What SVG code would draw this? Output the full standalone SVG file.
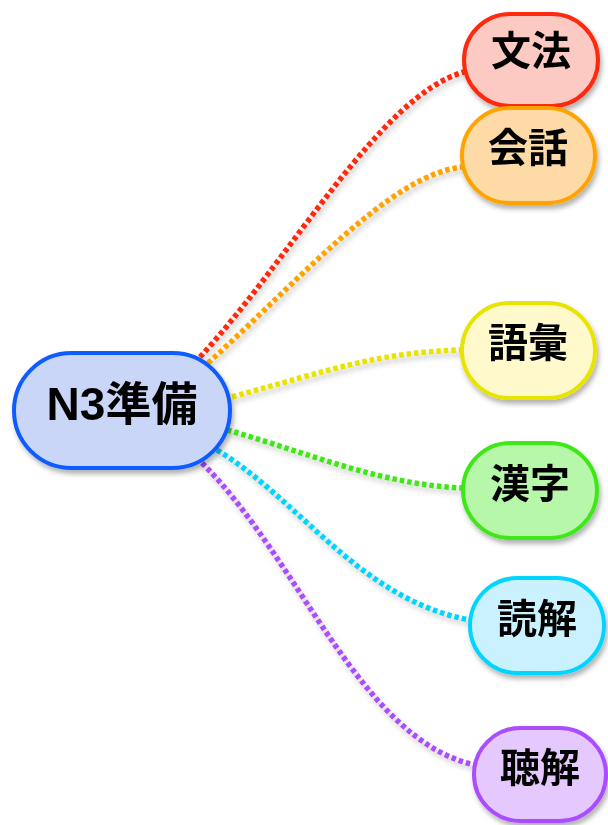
<svg xmlns="http://www.w3.org/2000/svg" width="608" height="825" viewBox="0 0 608 825">
<defs>
<filter id="sh" x="-20%" y="-20%" width="140%" height="150%">
<feDropShadow dx="2" dy="4" stdDeviation="2.5" flood-color="#000" flood-opacity="0.3"/>
</filter>
<filter id="lsh" x="-10%" y="-10%" width="120%" height="120%">
<feDropShadow dx="2" dy="4" stdDeviation="2.5" flood-color="#000" flood-opacity="0.22"/>
</filter>
</defs>
<style>
.c{fill:none;stroke-width:5.5;stroke-dasharray:4.5 3}
.n{stroke-width:4}
.t{font-family:"Noto Sans CJK JP","Liberation Sans",sans-serif;font-weight:bold;font-size:40px;fill:#000;text-anchor:middle}
.m{font-family:"Liberation Sans","Noto Sans CJK JP",sans-serif;font-weight:bold;font-size:46px;fill:#000;text-anchor:middle}
</style>
<rect width="608" height="825" fill="#fff"/>
<g id="connectors" filter="url(#lsh)">
<path class="c" stroke="#ff2a10" d="M200,357 C290,260 380,95 464,72"/>
<path class="c" stroke="#ffa300" d="M208,363 C300,280 390,175 462,167"/>
<path class="c" stroke="#e8e400" d="M232,397 C330,370 380,352 462,350"/>
<path class="c" stroke="#3ee819" d="M227,430 C300,450 380,485 463,488"/>
<path class="c" stroke="#00d5ff" d="M217,450 C300,500 360,600 470,620"/>
<path class="c" stroke="#aa4dff" d="M202,463 C300,560 360,740 475,765"/>
</g>
<g id="center" filter="url(#sh)">
<rect class="n" x="14" y="353" width="216" height="115" rx="57.5" fill="#c9d6f8" stroke="#0f5cff"/>
<text class="m" x="122" y="420">N3準備</text>
</g>
<g id="bunpo" filter="url(#sh)">
<rect class="n" x="464" y="14" width="134" height="92" rx="46" fill="#fccac3" stroke="#ff2a10"/>
<text class="t" x="531" y="65">文法</text>
</g>
<g id="kaiwa" filter="url(#sh)">
<rect class="n" x="462" y="108" width="133" height="95" rx="47.5" fill="#fedba6" stroke="#ffa300"/>
<text class="t" x="528" y="162">会話</text>
</g>
<g id="goi" filter="url(#sh)">
<rect class="n" x="462" y="303" width="133" height="95" rx="47.5" fill="#fff9cc" stroke="#e8e400"/>
<text class="t" x="528" y="357">語彙</text>
</g>
<g id="kanji" filter="url(#sh)">
<rect class="n" x="463" y="443" width="134" height="95" rx="47.5" fill="#b6f7a9" stroke="#3ee819"/>
<text class="t" x="530" y="498">漢字</text>
</g>
<g id="dokkai" filter="url(#sh)">
<rect class="n" x="470" y="578" width="134" height="95" rx="47.5" fill="#c9f2fe" stroke="#00d5ff"/>
<text class="t" x="537" y="633">読解</text>
</g>
<g id="choukai" filter="url(#sh)">
<rect class="n" x="474" y="728" width="132" height="93" rx="46.5" fill="#e5c9fe" stroke="#aa4dff"/>
<text class="t" x="540" y="782">聴解</text>
</g>
</svg>
